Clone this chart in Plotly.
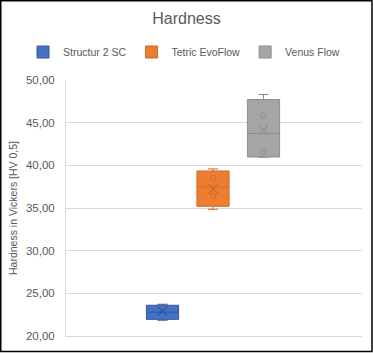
import plotly.graph_objects as go

categories = ["Structur 2 SC", "Tetric EvoFlow", "Venus Flow"]
lower_whisker = [21.85, 34.85, 40.95]
q1_values = [21.95, 35.20, 40.98]
median_values = [22.80, 37.47, 43.73]
q3_values = [23.60, 39.34, 47.71]
upper_whisker = [23.72, 39.58, 48.30]
mean_values = [22.90, 37.23, 44.12]
inner_points = [[], [38.52, 36.41], [45.87, 41.57]]
y_ticks = [20, 25, 30, 35, 40, 45, 50]

fill_colors = ["#4472C4", "#ED7D31", "#A5A5A5"]
line_colors = ["#34589C", "#D06A26", "#8E8E8E"]
text_color = "#595959"
font_family = "Liberation Sans, Arial, sans-serif"

W, H = 373, 353
ML, MR, MT, MB = 66, 11, 80, 17
PW, PH = W - ML - MR, H - MT - MB

fig = go.Figure()
for i, cat in enumerate(categories):
    fig.add_trace(go.Box(
        name=cat, x=[cat],
        q1=[q1_values[i]], median=[median_values[i]], q3=[q3_values[i]],
        lowerfence=[lower_whisker[i]], upperfence=[upper_whisker[i]],
        fillcolor=fill_colors[i], line=dict(color=line_colors[i], width=1),
        whiskerwidth=0.32, boxpoints=False, hoverinfo="skip",
    ))
for i, cat in enumerate(categories):
    fig.add_trace(go.Scatter(
        x=[cat], y=[mean_values[i]], mode="markers", showlegend=False,
        marker=dict(symbol="x-thin-open", size=9, color=line_colors[i],
                    line=dict(color=line_colors[i], width=1.2)),
        hoverinfo="skip",
    ))
    if inner_points[i]:
        fig.add_trace(go.Scatter(
            x=[cat] * len(inner_points[i]), y=inner_points[i], mode="markers", showlegend=False,
            marker=dict(symbol="circle-open", size=5, color=line_colors[i],
                        line=dict(color=line_colors[i], width=1)),
            hoverinfo="skip",
        ))

fig.update_layout(
    width=W, height=H,
    margin=dict(l=ML, r=MR, t=MT, b=MB, autoexpand=False),
    paper_bgcolor="white", plot_bgcolor="white",
    separators=",.",
    boxgap=0.09,
    font=dict(family=font_family, color=text_color),
    title=dict(text="Hardness", x=0.5, xref="container", xanchor="center",
               y=1 - 18 / H, yref="container", yanchor="middle",
               font=dict(size=16, color=text_color)),
    legend=dict(orientation="h", x=(23 - ML) / PW, xref="paper", xanchor="left",
                y=(H - MB - 52) / PH, yref="paper", yanchor="middle",
                font=dict(size=10.5, color=text_color), itemwidth=30),
    xaxis=dict(type="category", categoryorder="array", categoryarray=categories,
               range=[-1.911, 3.95], showticklabels=False, showgrid=False,
               showline=True, linecolor="#D9D9D9", linewidth=1, zeroline=False),
    yaxis=dict(range=[20, 50], tickvals=y_ticks, tickformat=".2f",
               showgrid=True, gridcolor="#D9D9D9", gridwidth=1,
               showline=True, linecolor="#D9D9D9", linewidth=1, zeroline=False,
               ticks="", ticklabelstandoff=8,
               tickfont=dict(size=11.5, color=text_color),
               title=dict(text="Hardness in Vickers [HV 0,5]", standoff=6,
                          font=dict(size=10.5, color=text_color))),
)

fig.add_shape(type="rect", xref="paper", yref="paper",
              x0=(0.75 - ML) / PW, x1=(W - 1 - ML) / PW,
              y0=(H - MB - (H - 1.5)) / PH, y1=(H - MB - 0.75) / PH,
              line=dict(color="black", width=1.5), fillcolor="rgba(0,0,0,0)", layer="above")

fig.write_html("out.html")
